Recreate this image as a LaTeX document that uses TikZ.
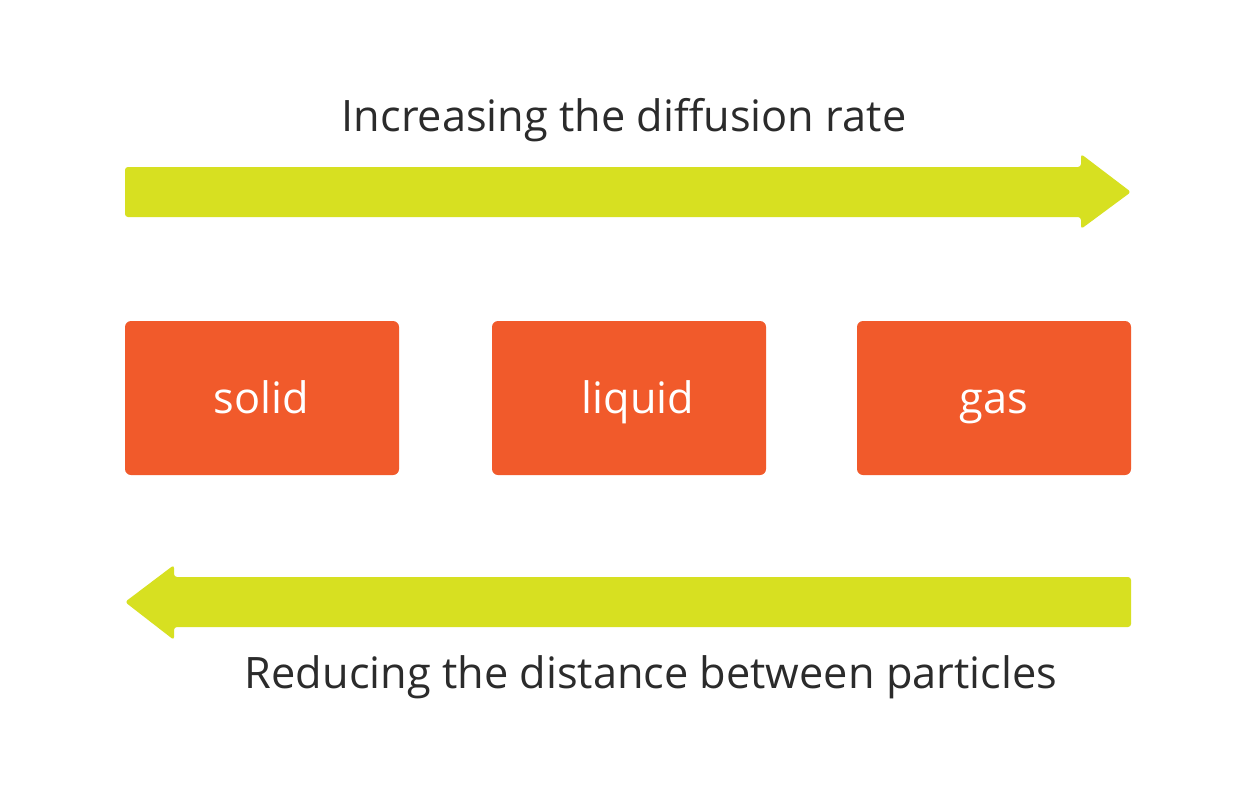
\documentclass[tikz,border=0pt]{standalone}
\usepackage{fontspec}
\setmainfont{Open Sans}
\definecolor{lime}{HTML}{D7E021}
\definecolor{flame}{HTML}{F15A2B}
\definecolor{ink}{HTML}{2B2B2B}
\begin{document}
\begin{tikzpicture}[x=1pt,y=-1pt,
  statebox/.style={fill=flame,rounded corners=6pt,minimum width=274pt,minimum height=154pt,inner sep=0pt},
  statetext/.style={text=white,anchor=base,inner sep=0pt,font=\fontsize{43.3}{50}\selectfont},
  caption/.style={text=ink,anchor=base,inner sep=0pt,font=\fontsize{43.3}{50}\selectfont},
  bigarrow/.style={fill=lime,rounded corners=3pt}]
\useasboundingbox (0,0) rectangle (1250,811);
\fill[white] (0,0) rectangle (1250,811);
% top arrow
\fill[bigarrow] (125,167) -- (1081,167) -- (1081,154) -- (1131,192) -- (1081,229) -- (1081,217) -- (125,217) -- cycle;
% bottom arrow
\fill[bigarrow] (1131,577) -- (174,577) -- (174,565) -- (125,602) -- (174,640) -- (174,627) -- (1131,627) -- cycle;
\node[caption] (top) at (624,131) {Increasing the diffusion rate};
\node[caption] (bot) at (651,688) {Reducing the distance between particles};
\node[statebox] (solid) at (262,398) {};
\node[statebox] (liquid) at (629,398) {};
\node[statebox] (gas) at (994,398) {};
\node[statetext] (solidt) at (261,413) {solid};
\node[statetext] (liquidt) at (638,413) {liquid};
\node[statetext] (gast) at (994,413) {gas};
\end{tikzpicture}
\end{document}
